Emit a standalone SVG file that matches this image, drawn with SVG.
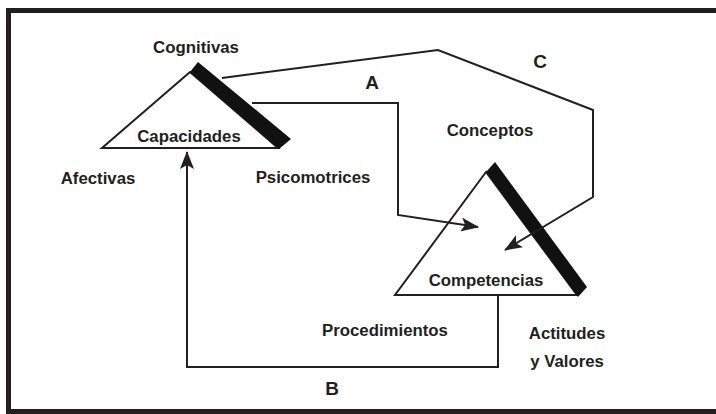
<svg xmlns="http://www.w3.org/2000/svg" width="716" height="414" viewBox="0 0 716 414">
<defs>
<style>
.t{font-family:"Liberation Sans",Arial,sans-serif;font-weight:bold;font-size:16.8px;fill:#231f20;text-anchor:middle}
.L{font-size:19px}
.c{fill:none;stroke:#231f20;stroke-width:2}
.tri{fill:#fff;stroke:#231f20;stroke-width:2}
.bar{fill:#111;stroke:none}
</style>
<marker id="ah" markerUnits="userSpaceOnUse" markerWidth="18" markerHeight="14" viewBox="0 0 18 14" refX="17" refY="7" orient="auto">
<path d="M0,0 L18,7 L0,14 L4,7 z" fill="#231f20"/>
</marker>
</defs>
<rect x="0" y="0" width="716" height="414" fill="#fff"/>
<rect x="8.5" y="10.5" width="730" height="401" fill="none" stroke="#231f20" stroke-width="5"/>

<g id="capacidades">
<polygon class="tri" points="190,72 102,148 278,148"/>
<polygon class="bar" points="190,72 198,62 291,139 279,149"/>
<text class="t" x="189" y="142">Capacidades</text>
</g>

<g id="competencias">
<polygon class="tri" points="486,172 395,295 577,295"/>
<polygon class="bar" points="486,172 495,162 587,287 578,297"/>
<text class="t" x="486" y="286">Competencias</text>
</g>

<g id="connectors">
<polyline id="A" class="c" points="252,103 398,103 398,215 478,227" marker-end="url(#ah)"/>
<polyline id="C" class="c" points="222,78 438,50 593,110 593,197 505,250" marker-end="url(#ah)"/>
<polyline id="B" class="c" points="498,296 498,367 187,367 187,152" marker-end="url(#ah)"/>
</g>

<g id="labels">
<text class="t" x="196" y="53">Cognitivas</text>
<text class="t" x="98" y="184">Afectivas</text>
<text class="t" x="313" y="183">Psicomotrices</text>
<text class="t" x="490" y="136">Conceptos</text>
<text class="t" x="385" y="336">Procedimientos</text>
<text class="t" x="567" y="339">Actitudes</text>
<text class="t" x="567" y="367">y Valores</text>
<text class="t L" x="372" y="89">A</text>
<text class="t L" x="540" y="68">C</text>
<text class="t L" x="332" y="395">B</text>
</g>
</svg>
